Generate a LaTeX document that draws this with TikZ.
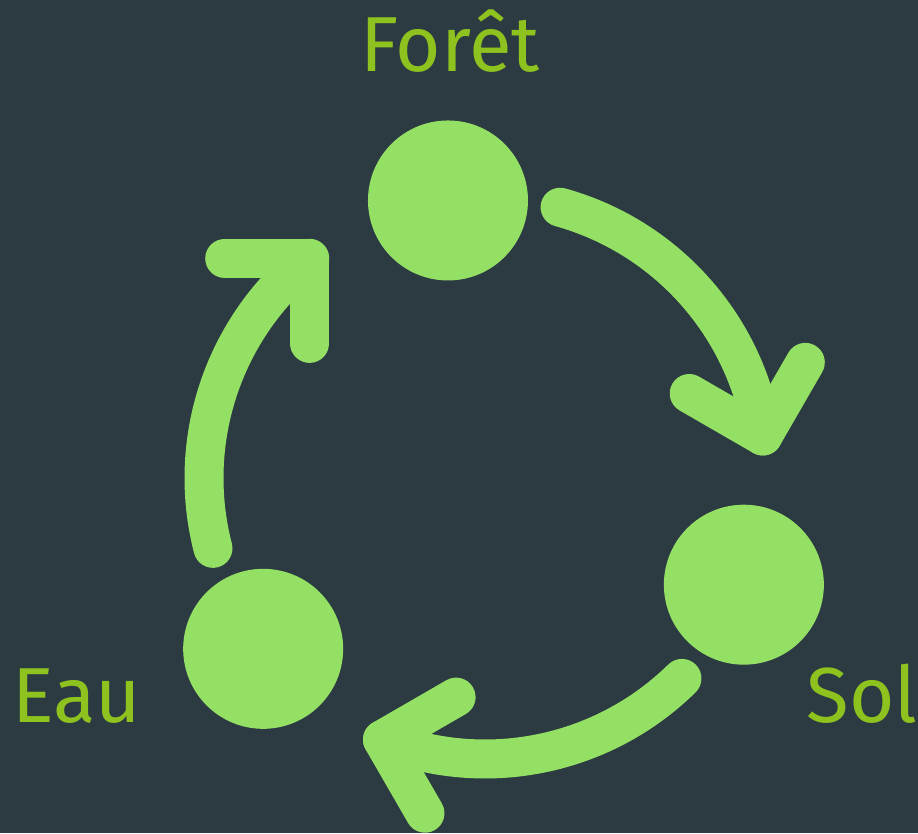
\documentclass[tikz,border=0pt]{standalone}
\usepackage{fontspec}
\setmainfont{Fira Sans}
\definecolor{bg}{HTML}{2C3A42}
\definecolor{leaf}{HTML}{94E064}
\definecolor{lbl}{HTML}{8DC21F}
\begin{document}
\begin{tikzpicture}[x=1pt,y=1pt,
  dot/.style={circle,fill=leaf,minimum size=160pt,inner sep=0pt},
  cyc/.style={draw=leaf,line width=39pt,line cap=round,line join=round},
  lbltext/.style={text=lbl,font=\fontsize{78}{90}\selectfont,inner sep=0pt}]
\fill[bg] (0,0) rectangle (918,833);
\useasboundingbox (0,0) rectangle (918,833);
\coordinate (c) at (485,355);
% nodes
\node[dot] (foret) at ([shift={(97.6:280)}]c) {};
\node[dot] (sol) at ([shift={(-22.4:280)}]c) {};
\node[dot] (eau) at ([shift={(217.6:280)}]c) {};
% labels
\node[lbltext,anchor=base] (lforet) at (450,761) {Forêt};
\node[lbltext,anchor=base west] (leau) at (12,111) {Eau};
\node[lbltext,anchor=base east] (lsol) at (918,111) {Sol};
% arrow Forêt -> Sol
\coordinate (s1) at ([shift={(74.5:281)}]c);
\coordinate (t1) at ([shift={(8.6:281)}]c);
\coordinate (a1) at ([shift={(150:85)}]t1);
\coordinate (b1) at ([shift={(60:85)}]t1);
\draw[cyc] (s1) arc[start angle=74.5,end angle=8.6,radius=281];
\draw[cyc] (a1) -- (t1) -- (b1);
% arrow Sol -> Eau
\coordinate (s2) at ([shift={(-45.5:281)}]c);
\coordinate (t2) at ([shift={(-111.4:281)}]c);
\coordinate (a2) at ([shift={(30:85)}]t2);
\coordinate (b2) at ([shift={(-60:85)}]t2);
\draw[cyc] (s2) arc[start angle=-45.5,end angle=-111.4,radius=281];
\draw[cyc] (a2) -- (t2) -- (b2);
% arrow Eau -> Forêt
\coordinate (s3) at ([shift={(194.5:281)}]c);
\coordinate (t3) at ([shift={(128.6:281)}]c);
\coordinate (a3) at ([shift={(270:85)}]t3);
\coordinate (b3) at ([shift={(180:85)}]t3);
\draw[cyc] (s3) arc[start angle=194.5,end angle=128.6,radius=281];
\draw[cyc] (a3) -- (t3) -- (b3);
\end{tikzpicture}
\end{document}
